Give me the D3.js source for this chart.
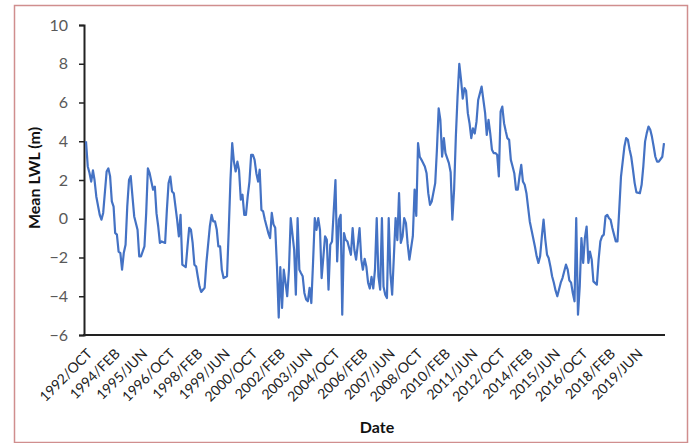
<!DOCTYPE html>
<html><head><meta charset="utf-8">
<script src="https://cdn.jsdelivr.net/npm/d3@7"></script>
<style>
body{margin:0;background:#fff}
svg{display:block}
text{font-family:Lato,"Open Sans",sans-serif}
</style>
</head><body>
<svg id="chart" width="696" height="443"></svg>
<script>
const dates = [
"1992-10","1992-11","1992-12",
"1993-01","1993-02","1993-03","1993-04","1993-06","1993-07","1993-08","1993-10","1993-11","1993-12",
"1994-01","1994-02","1994-03","1994-04","1994-05","1994-06","1994-07","1994-08","1994-09","1994-10","1994-11","1994-12",
"1995-01","1995-02","1995-04","1995-05","1995-06","1995-08","1995-09","1995-10","1995-11",
"1996-01","1996-02","1996-03","1996-04","1996-05","1996-06","1996-08","1996-09","1996-10","1996-11","1996-12",
"1997-01","1997-03","1997-04","1997-05","1997-06","1997-08","1997-09","1997-10","1997-11","1997-12",
"1998-01","1998-02","1998-03","1998-04","1998-05","1998-07","1998-08","1998-10","1998-11","1998-12",
"1999-01","1999-02","1999-03","1999-04","1999-05","1999-06","1999-08","1999-09","1999-10","1999-11","1999-12",
"2000-01","2000-02","2000-03","2000-04","2000-05","2000-06","2000-07","2000-08","2000-09","2000-10","2000-11","2000-12",
"2001-01","2001-02","2001-03","2001-04","2001-05","2001-06","2001-08","2001-09","2001-10","2001-11","2001-12",
"2002-01","2002-02","2002-03","2002-04","2002-05","2002-06","2002-07","2002-08","2002-09","2002-11","2002-12",
"2003-01","2003-02","2003-03","2003-04","2003-05","2003-06","2003-07","2003-08","2003-09","2003-10","2003-11","2003-12",
"2004-01","2004-02","2004-03","2004-05","2004-06","2004-07","2004-08","2004-09","2004-11","2004-12",
"2005-01","2005-02","2005-03","2005-04","2005-05","2005-06","2005-08","2005-09","2005-10","2005-11","2005-12",
"2006-01","2006-02","2006-03","2006-04","2006-05","2006-06","2006-07","2006-08","2006-09","2006-10","2006-11","2006-12",
"2007-01","2007-02","2007-03","2007-04","2007-05","2007-06","2007-07","2007-08","2007-10","2007-11","2007-12",
"2008-01","2008-02","2008-03","2008-04","2008-05","2008-06","2008-08","2008-09","2008-10","2008-11","2008-12",
"2009-01","2009-03","2009-04","2009-05","2009-06","2009-07","2009-09","2009-10","2009-11","2009-12",
"2010-01","2010-02","2010-03","2010-05","2010-06","2010-07","2010-08","2010-09","2010-10","2010-11","2010-12",
"2011-01","2011-02","2011-03","2011-04","2011-05","2011-06","2011-07","2011-08","2011-09","2011-10","2011-12",
"2012-01","2012-02","2012-03","2012-04","2012-05","2012-06","2012-07","2012-08","2012-09","2012-10","2012-11","2012-12",
"2013-01","2013-02","2013-03","2013-04","2013-05","2013-06","2013-07","2013-08","2013-09","2013-10","2013-11","2013-12",
"2014-01","2014-02","2014-03","2014-04","2014-05","2014-07","2014-08","2014-09","2014-10","2014-11","2014-12",
"2015-01","2015-02","2015-03","2015-04","2015-05","2015-06","2015-07","2015-08","2015-10","2015-11",
"2016-01","2016-02","2016-03","2016-04","2016-05","2016-06","2016-07","2016-08","2016-09","2016-10","2016-11","2016-12",
"2017-01","2017-02","2017-03","2017-04","2017-05","2017-07","2017-08","2017-09","2017-10","2017-11","2017-12",
"2018-01","2018-02","2018-03","2018-04","2018-05","2018-06","2018-07","2018-08","2018-09","2018-11","2018-12",
"2019-01","2019-02","2019-03","2019-04","2019-05","2019-06","2019-08","2019-09","2019-10","2019-11","2019-12",
"2020-01","2020-02","2020-03","2020-04","2020-05","2020-06","2020-07","2020-09","2020-10"
];
const lwl = [
4.0,2.7,2.37,
1.92,2.5,2.0,1.15,0.2,-0.05,0.3,2.44,2.6,2.2,
0.9,0.63,-0.73,-0.82,-1.7,-1.77,-2.63,-1.75,-1.34,0.63,2.0,2.2,
1.15,0.12,-0.57,-1.94,-1.94,-1.43,0.29,2.6,2.35,
1.5,1.66,0.29,-0.4,-1.25,-1.17,-1.25,0.46,1.84,2.18,1.41,
1.32,-0.05,-0.91,0.2,-2.37,-2.5,-1.43,-0.47,-0.57,-1.25,
-2.37,-2.46,-2.97,-3.49,-3.78,-3.56,-2.28,-0.4,0.2,-0.14,
-0.14,-0.57,-1.43,-1.43,-2.63,-3.06,-2.97,-0.57,2.0,3.9,2.95,
2.44,2.95,2.5,0.98,1.24,0.2,0.2,1.15,1.92,3.3,3.3,3.04,
2.35,1.92,2.53,0.46,0.38,-0.05,-0.74,-1.0,0.3,-0.3,-0.47,
-2.46,-5.1,-2.5,-4.6,-2.63,-3.3,-4.0,-2.63,0.03,-1.6,-3.92,
0.03,-2.63,-2.8,-2.97,-3.83,-4.17,-4.26,-3.57,-4.35,-2.28,0.03,-0.57,
0.03,-0.57,-3.06,-0.91,-1.08,-3.66,-1.34,-1.17,2.0,-2.2,
-0.05,0.2,-4.95,-0.74,-1.08,-1.17,-1.86,-0.48,-1.6,-2.11,-1.34,
-0.48,-2.11,-2.63,-2.07,-2.46,-3.3,-3.6,-3.0,-3.6,-2.63,0.03,-2.97,
-3.66,0.03,-3.5,-3.92,-4.09,0.03,-2.8,-3.92,0.03,-1.1,1.32,
-1.25,-0.91,0.03,-0.22,-1.3,-2.11,-0.9,1.5,0.15,3.9,3.2,
3.04,2.7,2.35,1.32,0.72,0.89,1.84,3.56,5.7,5.1,
3.2,4.16,3.39,2.87,2.4,-0.05,1.5,4.24,6.3,8.0,7.2,
6.2,6.74,6.6,5.45,4.93,4.16,4.67,4.4,5.0,6.13,6.82,
6.13,5.45,4.33,5.1,4.42,3.56,3.39,3.39,3.3,2.18,5.53,5.79,
4.93,4.5,4.16,4.07,3.04,2.7,2.35,1.5,1.5,2.18,2.78,1.92,
1.75,1.32,0.63,-0.14,-0.57,-1.43,-1.94,-2.28,-1.94,-0.91,-0.05,
-1.08,-1.86,-2.03,-2.46,-2.97,-3.3,-3.7,-4.0,-3.3,-3.06,
-2.37,-2.63,-3.18,-3.3,-3.83,-4.26,0.03,-4.95,-3.49,-1.0,-2.28,-1.0,
-0.4,-2.28,-1.7,-2.11,-3.23,-3.4,-2.11,-1.17,-0.91,-0.82,0.12,
0.2,0.03,-0.05,-0.48,-0.82,-1.17,-1.17,0.46,2.18,3.73,4.16,
4.07,3.56,3.2,2.53,1.84,1.36,1.32,1.75,2.7,3.98,4.42,
4.76,4.59,4.24,3.73,3.2,2.95,2.95,3.2,3.9
];
const tickLabels = ["1992/OCT","1994/FEB","1995/JUN","1996/OCT","1998/FEB","1999/JUN","2000/OCT",
"2002/FEB","2003/JUN","2004/OCT","2006/FEB","2007/JUN","2008/OCT","2010/FEB","2011/JUN",
"2012/OCT","2014/FEB","2015/JUN","2016/OCT","2018/FEB","2019/JUN"];
const yTicks = [-6,-4,-2,0,2,4,6,8,10];
const xStart = "1992-10", xEnd = "2020-10";

const svg = d3.select("#chart");
const parseM = d3.timeParse("%Y-%m");
const parseT = d3.timeParse("%Y/%b");

const plot = {left:84, right:665, top:25, bottom:335};

const x = d3.scaleTime().domain([parseM(xStart), parseM(xEnd)]).range([86, 664]);
const y = d3.scaleLinear().domain([-6, 10]).range([plot.bottom, plot.top]);

// outer frame
svg.append("rect").attr("x",14.5).attr("y",5.5).attr("width",673).attr("height",437)
  .attr("fill","#fff").attr("stroke","#d08e8e").attr("stroke-width",1.5);

// y axis
const yAxis = svg.append("g").attr("transform",`translate(${plot.left},0)`)
  .call(d3.axisLeft(y).tickValues(yTicks).tickSize(5).tickPadding(11).tickFormat(d3.format("d")));
yAxis.select(".domain").attr("stroke","#222").attr("stroke-width",2);
yAxis.selectAll(".tick line").attr("stroke","#222").attr("stroke-width",1.5);
yAxis.selectAll(".tick text").attr("fill","#595959").style("font-size","16px")
  .style("font-family","Lato, 'Open Sans', sans-serif");

// x axis
const xAxis = svg.append("g").attr("transform",`translate(0,${plot.bottom})`)
  .call(d3.axisBottom(x).tickValues(tickLabels.map(parseT)).tickSize(0)
    .tickFormat((d,i)=>tickLabels[i]));
xAxis.select(".domain").remove();
svg.append("line").attr("x1",plot.left-1).attr("x2",plot.right).attr("y1",plot.bottom).attr("y2",plot.bottom)
  .attr("stroke","#222").attr("stroke-width",2);
xAxis.selectAll(".tick text")
  .attr("text-anchor","end").attr("fill","#222")
  .attr("transform","translate(-1,12) rotate(-45)")
  .attr("dy","0.35em").attr("y",6)
  .style("font-size","14px").style("font-family","Lato, 'Open Sans', sans-serif");

// line
const pts = dates.map((d,i)=>({d:parseM(d), v:lwl[i]}));
svg.append("path").datum(pts)
  .attr("fill","none").attr("stroke","#4472C4").attr("stroke-width",2.2).attr("stroke-linejoin","round")
  .attr("d", d3.line().x(p=>x(p.d)).y(p=>y(p.v)));

// titles
svg.append("text").attr("x",377).attr("y",433).attr("text-anchor","middle")
  .style("font-weight","bold").style("font-size","16px").attr("fill","#111").text("Date");
svg.append("text").attr("transform","translate(40,178) rotate(-90)").attr("text-anchor","middle")
  .style("font-weight","bold").style("font-size","16px").attr("fill","#111").text("Mean LWL (m)");
</script>
</body></html>
